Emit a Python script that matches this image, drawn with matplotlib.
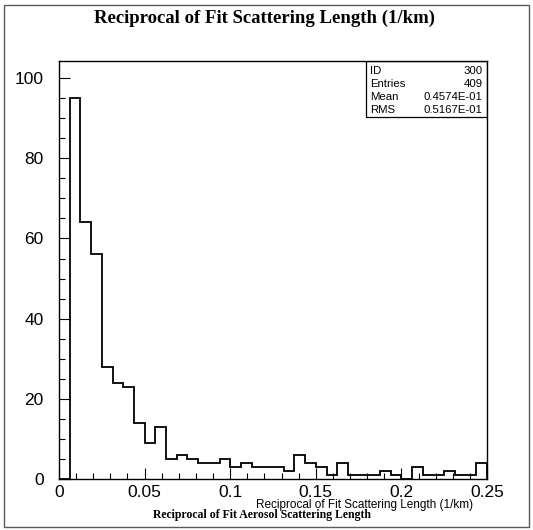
import numpy as np
import matplotlib

matplotlib.use("Agg")
import matplotlib.pyplot as plt
from matplotlib.ticker import MultipleLocator
from matplotlib.patches import Rectangle

# histogram 300, 40 bins over 0 .. 0.25 (1/km)
x_lo = 0.0
x_hi = 0.25
n_bins = 40
counts = [0, 95, 64, 56, 28, 24, 23, 14, 9, 13,
          5, 6, 5, 4, 4, 5, 3, 4, 3, 3,
          3, 2, 6, 4, 3, 1, 4, 1, 1, 1,
          2, 1, 0, 3, 1, 1, 2, 1, 1, 4]
x_ticks = [0, 0.05, 0.1, 0.15, 0.2, 0.25]
x_tick_labels = ["0", "0.05", "0.1", "0.15", "0.2", "0.25"]
y_ticks = [0, 20, 40, 60, 80, 100]

stats_names = ["ID", "Entries", "Mean", "RMS"]
stats_values = ["300", "409", "0.4574E-01", "0.5167E-01"]

title = "Reciprocal of Fit Scattering Length (1/km)"
x_title = "Reciprocal of Fit Scattering Length (1/km)"
caption = "Reciprocal of Fit Aerosol Scattering Length"

sans = ["Liberation Sans", "DejaVu Sans"]
serif = ["Liberation Serif", "DejaVu Serif"]

fig = plt.figure(figsize=(5.33, 5.30), dpi=100)
fig.patch.set_facecolor("white")

# outer page frame
fig.patches.append(Rectangle((0.008, 0.006), 0.984, 0.985, transform=fig.transFigure,
                             fill=False, edgecolor="0.35", linewidth=1.0))

ax = fig.add_axes([0.1107, 0.0962, 0.803, 0.789])
edges = np.linspace(x_lo, x_hi, n_bins + 1)
ax.stairs(counts, edges, color="black", linewidth=1.3, baseline=0)

ax.set_xlim(x_lo, x_hi)
ax.set_ylim(0, 104.3)
ax.set_xticks(x_ticks)
ax.set_xticklabels(x_tick_labels, fontfamily=sans, fontsize=12.5)
ax.set_yticks(y_ticks)
ax.set_yticklabels([str(v) for v in y_ticks], fontfamily=sans, fontsize=12.5)
ax.xaxis.set_minor_locator(MultipleLocator(0.01))
ax.yaxis.set_minor_locator(MultipleLocator(5))
ax.tick_params(which="both", direction="in", top=False, right=False, width=0.8)
ax.tick_params(which="major", length=8)
ax.tick_params(which="minor", length=4)
ax.tick_params(axis="y", which="major", pad=11)
ax.tick_params(axis="x", which="major", pad=4)
for s in ax.spines.values():
    s.set_linewidth(1.0)

# stats box in the top right corner
bx0 = (366 - 59) / 428.0
by0 = 1 - (117 - 61) / 418.0
ax.add_patch(Rectangle((bx0, by0), 1 - bx0, 1 - by0, transform=ax.transAxes,
                       fill=False, edgecolor="black", linewidth=0.9, zorder=5))
row_h = (1 - by0 - 0.008) / len(stats_names)
for i, (name, val) in enumerate(zip(stats_names, stats_values)):
    yy = 1 - 0.008 - row_h * (i + 0.5)
    ax.text(bx0 + 0.01, yy, name, transform=ax.transAxes, fontsize=8.2,
            fontfamily=sans, va="center", ha="left")
    ax.text(0.99, yy, val, transform=ax.transAxes, fontsize=8.2,
            fontfamily=sans, va="center", ha="right")

fig.text(0.497, 0.966, title, fontfamily=serif, fontweight="bold", fontsize=13.5,
         ha="center", va="center")
fig.text(473 / 533.0, 1 - 505 / 530.0, x_title, fontfamily=sans, fontsize=8.5,
         ha="right", va="center")
fig.text(262 / 533.0, 1 - 515 / 530.0, caption, fontfamily=serif, fontweight="bold",
         fontsize=8.5, ha="center", va="center")

fig.savefig("out.png", dpi=100)
